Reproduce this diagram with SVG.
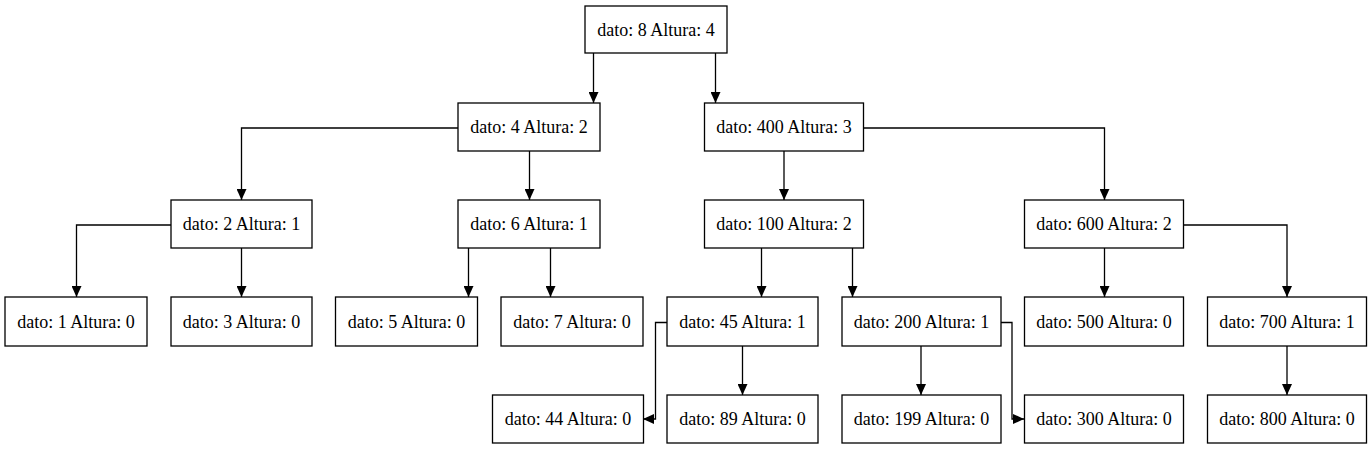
<svg xmlns="http://www.w3.org/2000/svg" width="1371" height="449" viewBox="0 0 1371 449">
<style>
.n rect{fill:#fff;stroke:#000;stroke-width:1.3}
.n text{font-family:"Liberation Serif","Times New Roman","DejaVu Serif",serif;font-size:18px;fill:#000;text-anchor:middle}
.e path{fill:none;stroke:#000;stroke-width:1.3}
</style>
<defs>
<marker id="ah" markerUnits="userSpaceOnUse" viewBox="0 0 11 10" refX="11" refY="5" markerWidth="11" markerHeight="10" orient="auto">
<path d="M0,0 L11,5 L0,10 z" fill="#000"/>
</marker>
</defs>
<rect width="1371" height="449" fill="#fff"/>
<g id="edges" class="e">
<path d="M593.5,53 V103" marker-end="url(#ah)"/>
<path d="M715.5,53 V103" marker-end="url(#ah)"/>
<path d="M458,128 H241.5 V200" marker-end="url(#ah)"/>
<path d="M529.5,151 V200" marker-end="url(#ah)"/>
<path d="M784,151 V200" marker-end="url(#ah)"/>
<path d="M863,128 H1104.5 V200" marker-end="url(#ah)"/>
<path d="M171,225 H76.5 V297" marker-end="url(#ah)"/>
<path d="M241.5,248 V297" marker-end="url(#ah)"/>
<path d="M468.5,248 V297" marker-end="url(#ah)"/>
<path d="M550.5,248 V297" marker-end="url(#ah)"/>
<path d="M761.5,248 V297" marker-end="url(#ah)"/>
<path d="M852.5,248 V297" marker-end="url(#ah)"/>
<path d="M1104.5,248 V297" marker-end="url(#ah)"/>
<path d="M1183,225 H1287 V297" marker-end="url(#ah)"/>
<path d="M667,322.5 H655.5 V419 H643" marker-end="url(#ah)"/>
<path d="M742.5,346 V395" marker-end="url(#ah)"/>
<path d="M921,346 V395" marker-end="url(#ah)"/>
<path d="M1001,322.5 H1012 V419 H1024" marker-end="url(#ah)"/>
<path d="M1287,346 V395" marker-end="url(#ah)"/>
</g>
<g id="n8" class="n"><rect x="585" y="6" width="142" height="47"/><text x="656" y="35.5">dato: 8 Altura: 4</text></g>
<g id="n4" class="n"><rect x="458" y="103" width="142" height="48"/><text x="529" y="133">dato: 4 Altura: 2</text></g>
<g id="n400" class="n"><rect x="704.5" y="103" width="159" height="48"/><text x="784" y="133">dato: 400 Altura: 3</text></g>
<g id="n2" class="n"><rect x="171" y="200" width="141" height="48"/><text x="241.5" y="230">dato: 2 Altura: 1</text></g>
<g id="n6" class="n"><rect x="458" y="200" width="142" height="48"/><text x="529" y="230">dato: 6 Altura: 1</text></g>
<g id="n100" class="n"><rect x="704.5" y="200" width="159" height="48"/><text x="784" y="230">dato: 100 Altura: 2</text></g>
<g id="n600" class="n"><rect x="1024.5" y="200" width="159" height="48"/><text x="1104" y="230">dato: 600 Altura: 2</text></g>
<g id="n1" class="n"><rect x="5" y="297" width="142" height="49"/><text x="76" y="327.5">dato: 1 Altura: 0</text></g>
<g id="n3" class="n"><rect x="171" y="297" width="141" height="49"/><text x="241.5" y="327.5">dato: 3 Altura: 0</text></g>
<g id="n5" class="n"><rect x="335.5" y="297" width="142" height="49"/><text x="406.5" y="327.5">dato: 5 Altura: 0</text></g>
<g id="n7" class="n"><rect x="501" y="297" width="142" height="49"/><text x="572" y="327.5">dato: 7 Altura: 0</text></g>
<g id="n45" class="n"><rect x="667" y="297" width="151" height="49"/><text x="742.5" y="327.5">dato: 45 Altura: 1</text></g>
<g id="n200" class="n"><rect x="842" y="297" width="159" height="49"/><text x="921.5" y="327.5">dato: 200 Altura: 1</text></g>
<g id="n500" class="n"><rect x="1024.5" y="297" width="159" height="49"/><text x="1104" y="327.5">dato: 500 Altura: 0</text></g>
<g id="n700" class="n"><rect x="1207.5" y="297" width="159" height="49"/><text x="1287" y="327.5">dato: 700 Altura: 1</text></g>
<g id="n44" class="n"><rect x="492.5" y="395" width="151" height="48"/><text x="568" y="425">dato: 44 Altura: 0</text></g>
<g id="n89" class="n"><rect x="667" y="395" width="151" height="48"/><text x="742.5" y="425">dato: 89 Altura: 0</text></g>
<g id="n199" class="n"><rect x="842" y="395" width="159" height="48"/><text x="921.5" y="425">dato: 199 Altura: 0</text></g>
<g id="n300" class="n"><rect x="1024.5" y="395" width="159" height="48"/><text x="1104" y="425">dato: 300 Altura: 0</text></g>
<g id="n800" class="n"><rect x="1207.5" y="395" width="159" height="48"/><text x="1287" y="425">dato: 800 Altura: 0</text></g>
</svg>
